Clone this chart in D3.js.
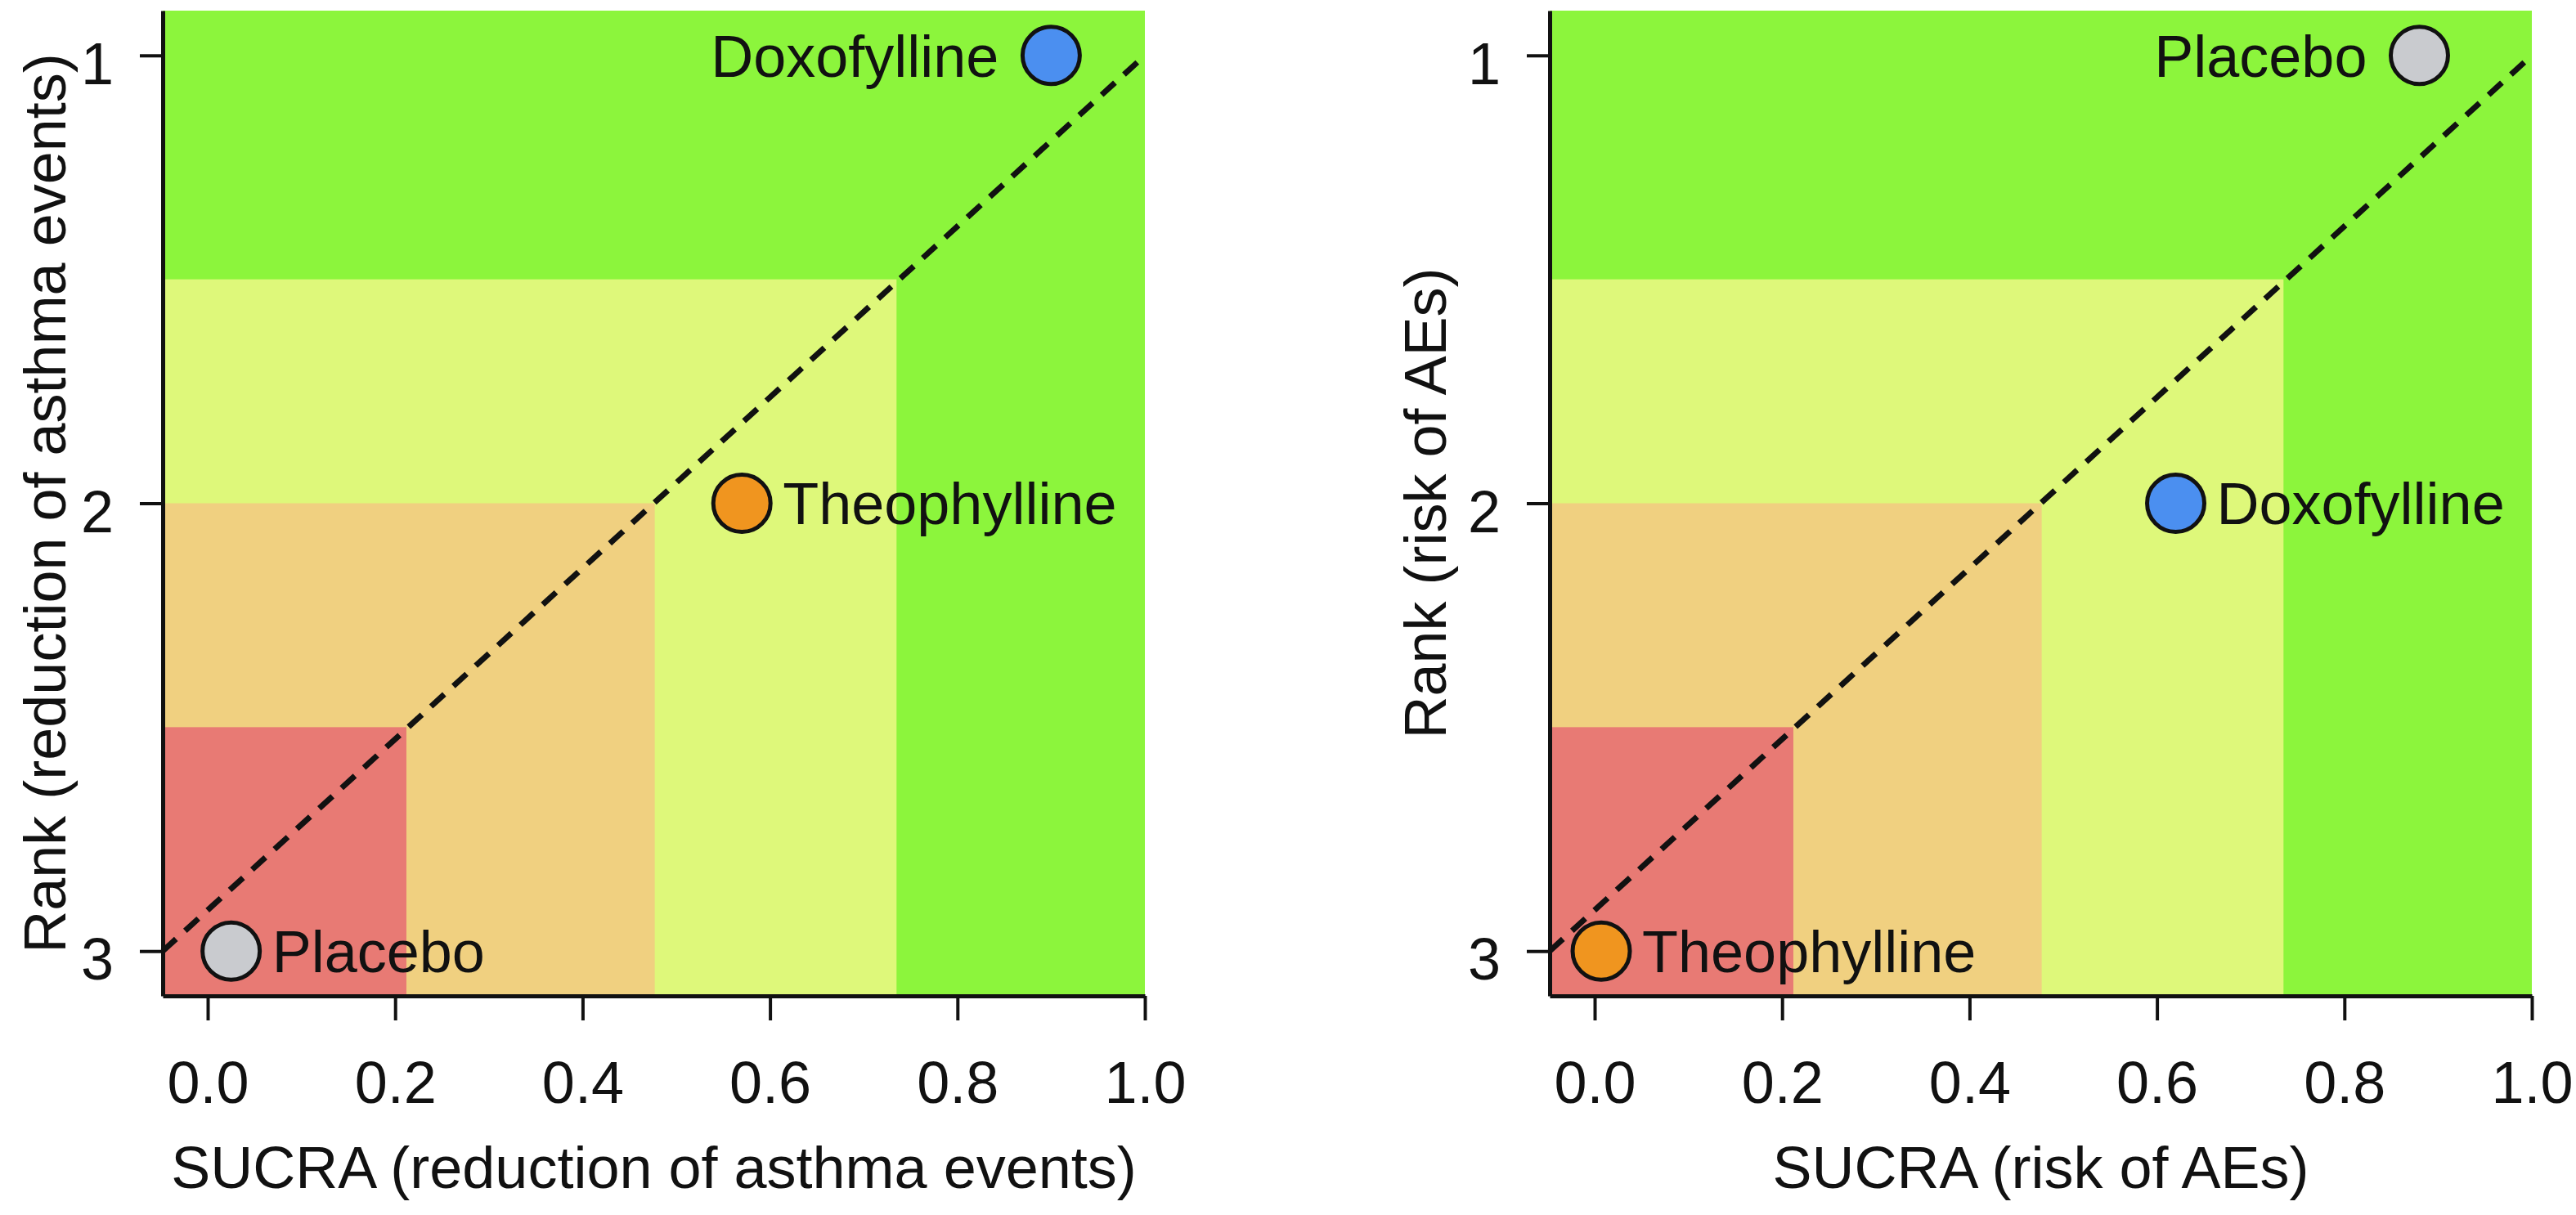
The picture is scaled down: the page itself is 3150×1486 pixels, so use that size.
<!DOCTYPE html>
<html>
<head>
<meta charset="utf-8">
<script src="https://cdn.jsdelivr.net/npm/d3@7"></script>
<style>
  body { margin: 0; background: #fff; }
  text { font-family: "Liberation Sans", Arial, sans-serif; fill: #111; }
</style>
</head>
<body>
<svg id="chart" width="3150" height="1486"></svg>
<script>
// ticks
const sucraTicks = [0.0, 0.2, 0.4, 0.6, 0.8, 1.0];
const rankTicks = [1, 2, 3];

// background zones: green, yellow, orange, red
const zoneColors = ["#8cf53c", "#def87a", "#f0d080", "#e87a74"];
const zoneSucraEnd = [1.0, 0.735, 0.477, 0.212];
const zoneRankStart = [0.9, 1.5, 2.0, 2.5];

// drug colours
const drugs = ["Doxofylline", "Theophylline", "Placebo"];
const drugFill = ["#4b8ff0", "#f0951f", "#c9cbcf"];

// panel 1 - reduction of asthma events
const asthmaNames = ["Doxofylline", "Theophylline", "Placebo"];
const asthmaSucra = [0.90, 0.57, 0.025];
const asthmaRank = [1, 2, 3];

// panel 2 - risk of AEs
const aeNames = ["Placebo", "Doxofylline", "Theophylline"];
const aeSucra = [0.88, 0.62, 0.007];
const aeRank = [1, 2, 3];

const svg = d3.select("#chart");

function drawPanel(x0, names, sucra, rank, xTitle, yTitle, yTitleOff) {
  const w = 1201, top = 13, bottom = 1218;

  const x = d3.scaleLinear().domain([-0.048, 1.0]).range([x0, x0 + w]);
  const y = d3.scaleLinear().domain([0.9, 3.1]).range([top, bottom]);

  const g = svg.append("g");

  // coloured zones
  g.selectAll("rect.zone")
    .data(zoneColors)
    .enter()
    .append("rect")
    .attr("class", "zone")
    .attr("x", x(x.domain()[0]))
    .attr("y", (d, i) => y(zoneRankStart[i]))
    .attr("width", (d, i) => x(zoneSucraEnd[i]) - x(x.domain()[0]))
    .attr("height", (d, i) => y(y.domain()[1]) - y(zoneRankStart[i]))
    .style("fill", d => d);

  // diagonal reference line
  const line = d3.line().x(d => x(d[0])).y(d => y(d[1]));
  g.append("path")
    .attr("d", line([[x.domain()[0], 3], [1, 1]]))
    .attr("fill", "none")
    .attr("stroke", "#111")
    .attr("stroke-width", 7)
    .attr("stroke-dasharray", "22 15");

  // axes
  const yAxis = g.append("g")
    .attr("transform", `translate(${x0},0)`)
    .call(d3.axisLeft(y).tickValues(rankTicks).tickFormat(d3.format("d"))
      .tickSize(28).tickSizeOuter(0).tickPadding(32));
  yAxis.selectAll("text").attr("font-size", 72).attr("dy", "0.48em");

  const xAxis = g.append("g")
    .attr("transform", `translate(0,${bottom})`)
    .call(d3.axisBottom(x).tickValues(sucraTicks).tickFormat(d3.format(".1f"))
      .tickSize(30).tickSizeOuter(0).tickPadding(50));
  xAxis.selectAll("text").attr("font-size", 72);

  g.selectAll(".domain").attr("stroke", "#111").attr("stroke-width", 5);
  g.selectAll(".tick line").attr("stroke", "#111").attr("stroke-width", 4);
  g.selectAll(".tick text").style("fill", "#111").attr("font-family", null);

  // titles
  g.append("text")
    .attr("x", x0 + w / 2)
    .attr("y", 1453)
    .attr("text-anchor", "middle")
    .attr("font-size", 72)
    .text(xTitle);

  g.append("text")
    .attr("transform", `translate(${x0 - yTitleOff},${(top + bottom) / 2}) rotate(-90)`)
    .attr("text-anchor", "middle")
    .attr("font-size", 72)
    .text(yTitle);

  // points and labels
  const pts = names.map((n, i) => ({ name: n, s: sucra[i], r: rank[i] }));

  g.selectAll("circle")
    .data(pts)
    .enter()
    .append("circle")
    .attr("cx", d => x(d.s))
    .attr("cy", d => y(d.r))
    .attr("r", 35)
    .style("fill", d => drugFill[drugs.indexOf(d.name)])
    .style("stroke", "#111")
    .style("stroke-width", 5);

  g.selectAll("text.lab")
    .data(pts)
    .enter()
    .append("text")
    .attr("class", "lab")
    .attr("x", d => d.s > 0.8 ? x(d.s) - 64 : x(d.s) + 50)
    .attr("y", d => y(d.r))
    .attr("dy", "0.36em")
    .attr("text-anchor", d => d.s > 0.8 ? "end" : "start")
    .attr("font-size", 72)
    .text(d => d.name);
}

drawPanel(199, asthmaNames, asthmaSucra, asthmaRank,
  "SUCRA (reduction of asthma events)", "Rank (reduction of asthma events)", 119);
drawPanel(1895, aeNames, aeSucra, aeRank,
  "SUCRA (risk of AEs)", "Rank (risk of AEs)", 127);
</script>
</body>
</html>
